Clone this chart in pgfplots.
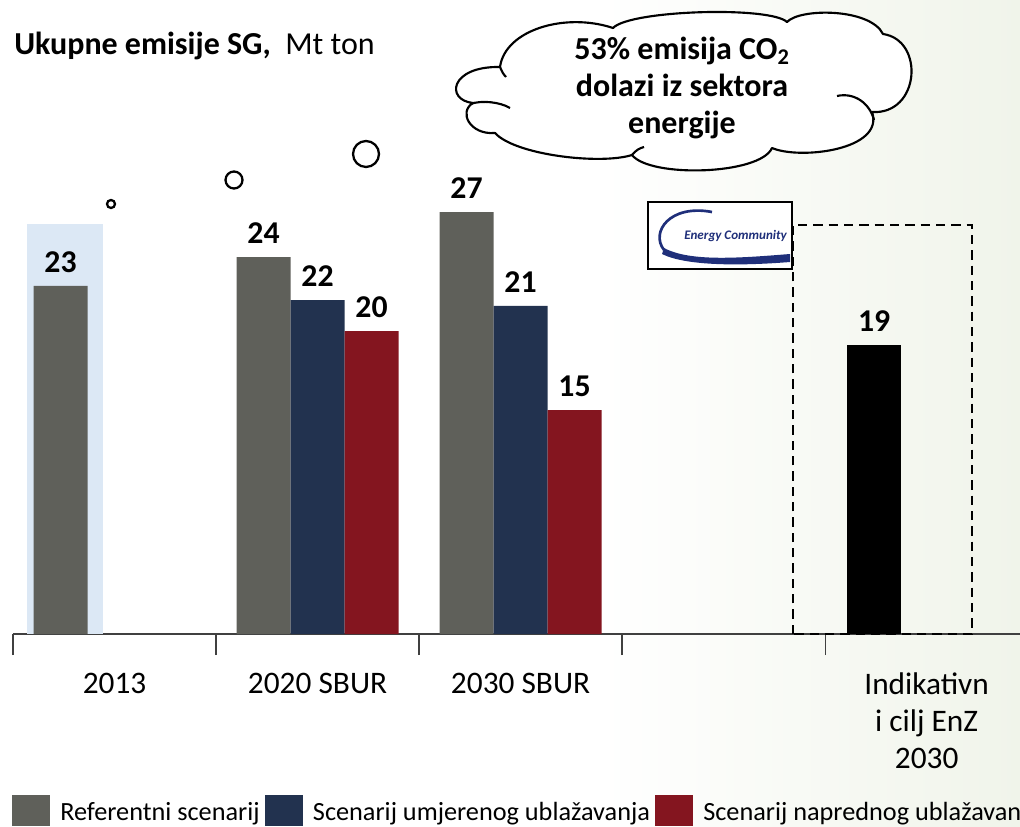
\documentclass[border=0pt]{standalone}
\usepackage{fontspec}
\setmainfont{Carlito}
\usepackage{pgfplots}
\usepackage{pgfplotstable}
\pgfplotsset{compat=1.18}

\definecolor{refgrey}{HTML}{5F605A}
\definecolor{modnavy}{HTML}{22324F}
\definecolor{advred}{HTML}{84151F}
\definecolor{hilite}{HTML}{DCE8F5}
\definecolor{axisgrey}{HTML}{404040}
\definecolor{bgtint}{HTML}{F0F4EA}
\definecolor{logonavy}{HTML}{1F2F7A}

% Mt ton, heights, labels as printed
\pgfplotstableread{
x y lab
0 22.75 23
1 24.64 24
2 27.58 27
}\refdata
\pgfplotstableread{
x y lab
1 21.83 22
2 21.44 21
}\moddata
\pgfplotstableread{
x y lab
1 19.80 20
2 14.64 15
}\advdata
\pgfplotstableread{
x y lab
4 18.90 19
}\enzdata

\begin{document}
\begin{tikzpicture}
\path[use as bounding box] (0,0) rectangle (765pt,619.5pt);
\shade[left color=white, right color=bgtint] (450pt,0) rectangle (765pt,619.5pt);

\begin{axis}[
    at={(9.75pt,144pt)}, anchor=south west,
    scale only axis, width=755.25pt, height=344.25pt,
    xmin=-0.5, xmax=4.46, ymin=0, ymax=30,
    axis x line=bottom, axis y line=none,
    axis line style={-, axisgrey, line width=1.1pt},
    xtick={0,1,2,3,4},
    xticklabels={2013, 2020 SBUR, 2030 SBUR, {}, {Indikativn\\i cilj EnZ\\2030}},
    major tick length=0pt,
    minor xtick={-0.5,0.5,1.5,2.5,3.5},
    minor tick length=15.75pt,
    tick align=outside,
    minor tick style={line width=0.9pt, axisgrey},
    xticklabel style={font=\fontsize{23.5}{27.75}\selectfont, align=center,
        anchor=north, inner sep=0pt, yshift=-29pt},
    point meta=explicit symbolic,
    nodes near coords style={font=\bfseries\fontsize{23.8}{26}\selectfont,
        black, anchor=south, inner sep=0pt, yshift=10pt},
    legend columns=3,
    legend cell align=left,
    legend style={draw=none, fill=none, inner sep=0pt, anchor=north west,
        at={(-0.001,-0.351)},
        font=\fontsize{19.7}{22}\selectfont,
        nodes={inner sep=0pt},
        /tikz/every odd column/.append style={column sep=7.5pt},
        /tikz/every even column/.append style={column sep=4pt}},
    legend image code/.code={\fill[#1] (0pt,-10.75pt) rectangle (28.5pt,12.5pt);},
    clip=false,
]
\addplot[ybar, bar width=0.374, bar shift=0pt, fill=hilite, draw=none, forget plot]
    coordinates {(-0.244,26.8)};

\addplot[ybar, bar width=0.266, bar shift=-40.5pt, fill=refgrey, draw=none, nodes near coords,
    every node near coord/.append style={xshift=-40.5pt}]
    table[x=x, y=y, meta=lab] {\refdata};
\addlegendentry{Referentni scenarij}
\addplot[ybar, bar width=0.266, bar shift=0pt, fill=modnavy, draw=none, nodes near coords]
    table[x=x, y=y, meta=lab] {\moddata};
\addlegendentry{Scenarij umjerenog ublažavanja}
\addplot[ybar, bar width=0.266, bar shift=40.5pt, fill=advred, draw=none, nodes near coords,
    every node near coord/.append style={xshift=40.5pt}]
    table[x=x, y=y, meta=lab] {\advdata};
\addlegendentry{Scenarij naprednog ublažavanja}
\addplot[ybar, bar width=0.266, bar shift=-39.4pt, fill=black, draw=none, nodes near coords,
    every node near coord/.append style={xshift=-39.4pt}, forget plot]
    table[x=x, y=y, meta=lab] {\enzdata};

\draw[line width=1.6pt, dash pattern=on 7pt off 4.5pt]
    (axis cs:3.342,0) rectangle (axis cs:4.224,26.73);
\end{axis}

% annotations in image pixel coordinates
\begin{scope}[x=0.75pt, y=-0.75pt, shift={(0,619.5pt)}]
  \node[anchor=base west, inner sep=0pt, font=\fontsize{24}{26}\selectfont] at (14,55)
      {\textbf{Ukupne emisije SG,}\ \ Mt ton};
  \draw[line width=1.7pt] (111,204) circle (4);
  \draw[line width=1.7pt] (234,180) circle (8.5);
  \draw[line width=1.7pt] (366,154) circle (13);
  % thought cloud
  \draw[line width=1.6pt, fill=white, line join=round]
    (473,103) .. controls (445,100) and (450,66) .. (500,67)
    .. controls (505,30) and (565,12) .. (613,28)
    .. controls (630,10) and (770,6) .. (787,22)
    .. controls (800,8) and (870,8) .. (883,34)
    .. controls (925,40) and (920,115) .. (872,112)
    .. controls (885,150) and (800,160) .. (772,148)
    .. controls (760,175) and (650,178) .. (632,155)
    .. controls (600,165) and (515,155) .. (495,133)
    .. controls (470,135) and (458,112) .. (473,103) -- cycle;
  \draw[line width=1.6pt] (470,104) .. controls (482,100) and (500,102) .. (510,108);
  \draw[line width=1.6pt] (837,96) .. controls (855,92) and (870,104) .. (874,120);
  \draw[line width=1.6pt] (632,155) .. controls (636,150) and (640,148) .. (644,147);
  \draw[line width=1.6pt] (500,67) .. controls (502,72) and (504,75) .. (506,77);
  \node[align=center, font=\bfseries\fontsize{24}{27.75}\selectfont, inner sep=0pt]
      at (682,88) {53\% emisija CO\textsubscript{2}\\dolazi iz sektora\\energije};
  % Energy Community logo
  \draw[line width=1.2pt, fill=white] (648,202) rectangle (792,269);
  \begin{scope}
    \clip (649,203) rectangle (791,268);
    \draw[logonavy, line width=2pt] (712,212) .. controls (670,204) and (650,232) .. (664,250);
    \fill[logonavy] (664,248) .. controls (690,262) and (740,258) .. (790,254)
        -- (790,262) .. controls (740,266) and (686,266) .. (662,254) -- cycle;
    \node[logonavy, font=\bfseries\itshape\fontsize{9.8}{10}\selectfont, inner sep=0pt,
        anchor=west] at (684,236) {Energy Community};
  \end{scope}
\end{scope}
\end{tikzpicture}
\end{document}
